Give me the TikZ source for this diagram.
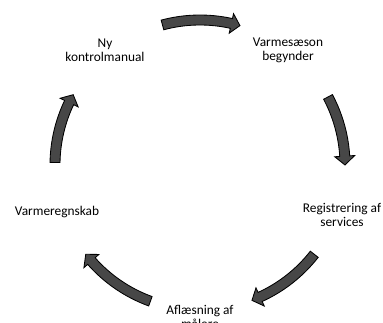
\documentclass[tikz,border=0pt]{standalone}
\usepackage{fontspec}
\setmainfont{Carlito}
\usepackage{tikz}

% curved block arrow on the cycle: #1 start angle, #2 end angle
\newcommand{\cyclearrow}[2]{%
  \fill[arrowbody] (#1:150) arc[start angle=#1, end angle=#2+3.5, radius=150]
    -- (#2+3.5:155) -- (#2:145) -- (#2+3.5:135) -- (#2+3.5:140)
    arc[start angle=#2+3.5, end angle=#1, radius=140] -- cycle;}

\begin{document}
\begin{tikzpicture}
[x=0.025cm, y=0.025cm,
 step label/.style ={align=center, font=\fontsize{9.5}{10}\selectfont, inner sep=0pt},
 arrowbody/.style ={fill=black!72, draw=black, line width=0.6pt}]
\useasboundingbox (-200,-158) rectangle (183,165);
\clip (-200,-158) rectangle (183,165);
\draw (-95, 115) node[step label] (ny) {Ny\\kontrolmanual};
\draw (88, 115) node[step label] (saeson) {Varmesæson\\begynder};
\draw (142, -50) node[step label] (reg) {Registrering af\\services};
\draw (0, -152) node[step label] (afl) {Aflæsning af\\målere};
\draw (-143, -47) node[step label] (regnskab) {Varmeregnskab};
\cyclearrow{105}{74}
\cyclearrow{28}{0}
\cyclearrow{-38}{-69}
\cyclearrow{-110}{-142}
\cyclearrow{179}{151}
\end{tikzpicture}
\end{document}
